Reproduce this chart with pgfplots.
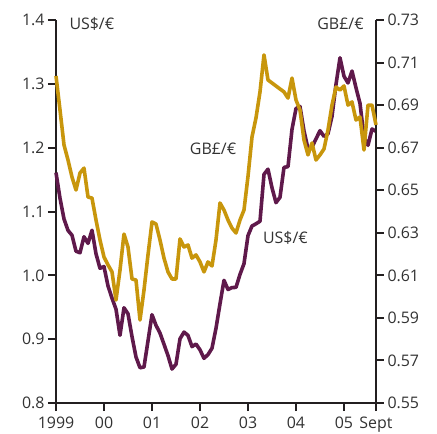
\documentclass[border=0pt]{standalone}
\usepackage{pgfplots}
\pgfplotsset{compat=1.18}
\usepackage{fontspec}
\setmainfont{Open Sans}
\definecolor{gold}{RGB}{200,150,12}
\definecolor{plum}{RGB}{95,25,75}
\definecolor{axgray}{RGB}{35,31,32}
\definecolor{txt}{RGB}{50,50,50}

\pgfplotstableread{
m v
0 1.1608
1 1.1208
2 1.0883
3 1.0704
4 1.0628
5 1.0378
6 1.0353
7 1.0604
8 1.0501
9 1.0706
10 1.0338
11 1.0110
12 1.0137
13 0.9834
14 0.9643
15 0.9470
16 0.9060
17 0.9492
18 0.9397
19 0.9041
20 0.8721
21 0.8552
22 0.8564
23 0.8973
24 0.9383
25 0.9217
26 0.9095
27 0.8920
28 0.8742
29 0.8532
30 0.8607
31 0.9005
32 0.9111
33 0.9059
34 0.8883
35 0.8924
36 0.8833
37 0.8700
38 0.8758
39 0.8858
40 0.9170
41 0.9554
42 0.9922
43 0.9778
44 0.9808
45 0.9811
46 1.0014
47 1.0183
48 1.0622
49 1.0773
50 1.0807
51 1.0848
52 1.1582
53 1.1663
54 1.1372
55 1.1139
56 1.1222
57 1.1692
58 1.1702
59 1.2286
60 1.2613
61 1.2646
62 1.2262
63 1.1985
64 1.2007
65 1.2138
66 1.2266
67 1.2176
68 1.2218
69 1.2490
70 1.2991
71 1.3408
72 1.3119
73 1.3014
74 1.3201
75 1.2938
76 1.2694
77 1.2165
78 1.2037
79 1.2292
80 1.2256
}\usdata

\pgfplotstableread{
m v
0 0.7037
1 0.6877
2 0.6713
3 0.6642
4 0.6562
5 0.6501
6 0.6581
7 0.6604
8 0.6468
9 0.6463
10 0.6360
11 0.6266
12 0.6186
13 0.6149
14 0.6116
15 0.5984
16 0.6125
17 0.6294
18 0.6233
19 0.6083
20 0.6078
21 0.5890
22 0.6031
23 0.6196
24 0.6351
25 0.6341
26 0.6266
27 0.6181
28 0.6116
29 0.6083
30 0.6083
31 0.6271
32 0.6233
33 0.6243
34 0.6181
35 0.6196
36 0.6163
37 0.6116
38 0.6163
39 0.6144
40 0.6266
41 0.6440
42 0.6407
43 0.6360
44 0.6322
45 0.6299
46 0.6360
47 0.6407
48 0.6565
49 0.6750
50 0.6840
51 0.6962
52 0.7136
53 0.7018
54 0.7004
55 0.6990
56 0.6976
57 0.6962
58 0.6933
59 0.7027
60 0.6924
61 0.6877
62 0.6736
63 0.6666
64 0.6722
65 0.6642
66 0.6666
67 0.6694
68 0.6783
69 0.6900
70 0.6985
71 0.6971
72 0.6990
73 0.6900
74 0.6915
75 0.6830
76 0.6844
77 0.6689
78 0.6900
79 0.6900
80 0.6807
}\gbpdata

\begin{document}
\begin{tikzpicture}
\path[use as bounding box] (-56bp,-31bp) rectangle (381bp,403bp);
\begin{axis}[
  at={(0,0)}, anchor=south west,
  scale only axis, width=320bp, height=383bp,
  xmin=0, xmax=80, ymin=0.8, ymax=1.4,
  axis x line*=bottom, axis y line*=left,
  xtick={0,12,24,36,48,60,72,80},
  xticklabels={1999,00,01,02,03,04,05,Sept},
  ytick={0.8,0.9,1.0,1.1,1.2,1.3,1.4},
  yticklabel style={/pgf/number format/.cd,fixed,fixed zerofill,precision=1},
  /pgf/number format/assume math mode=true,
  tick align=outside, major tick length=8bp,
  axis line style={line width=2.4bp, color=axgray},
  every tick/.style={line width=2bp, color=axgray},
  tick label style={font=\fontsize{16}{19}\selectfont, text=txt},
  xticklabel style={yshift=-2bp},
  clip=false,
]
\addplot[plum, line width=3.6bp, line join=round] table[x=m,y=v] {\usdata};
\node[anchor=west, font=\fontsize{16}{19}\selectfont, text=txt] at (axis cs:2.5,1.394) {US\$/€};
\node[anchor=east, font=\fontsize{16}{19}\selectfont, text=txt] at (axis cs:77.8,1.394) {GB£/€};
\node[anchor=west, font=\fontsize{16}{19}\selectfont, text=txt] at (axis cs:32.6,1.199) {GB£/€};
\node[anchor=west, font=\fontsize{16}{19}\selectfont, text=txt] at (axis cs:50.9,1.058) {US\$/€};
\end{axis}
\begin{axis}[
  at={(0,0)}, anchor=south west,
  scale only axis, width=320bp, height=383bp,
  xmin=0, xmax=80, ymin=0.55, ymax=0.73,
  hide x axis,
  axis y line*=right,
  ytick={0.55,0.57,0.59,0.61,0.63,0.65,0.67,0.69,0.71,0.73},
  yticklabel style={/pgf/number format/.cd,fixed,fixed zerofill,precision=2},
  /pgf/number format/assume math mode=true,
  tick align=outside, major tick length=8bp,
  axis line style={line width=2.4bp, color=axgray},
  every tick/.style={line width=2bp, color=axgray},
  tick label style={font=\fontsize{16}{19}\selectfont, text=txt},
  clip=false,
]
\addplot[gold, line width=3.6bp, line join=round] table[x=m,y=v] {\gbpdata};
\end{axis}
\end{tikzpicture}
\end{document}
